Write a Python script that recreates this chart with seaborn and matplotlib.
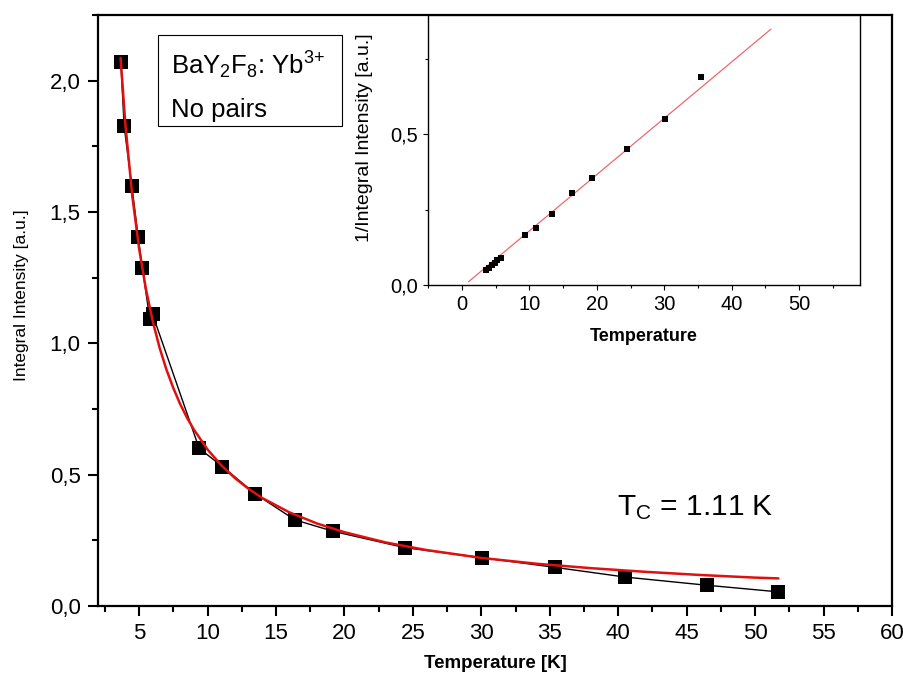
import matplotlib
matplotlib.use("Agg")
import matplotlib.pyplot as plt
import seaborn as sns
from matplotlib.patches import Rectangle
from matplotlib.ticker import MultipleLocator, FuncFormatter

# Measured integral intensity vs temperature (main panel)
temperature = [3.67, 3.91, 4.47, 4.93, 5.24, 5.78, 5.99, 9.39, 11.09, 13.48,
               16.38, 19.20, 24.43, 30.06, 35.39, 40.53, 46.47, 51.66]
intensity = [2.073, 1.826, 1.600, 1.406, 1.288, 1.094, 1.110, 0.600, 0.531, 0.427,
             0.328, 0.284, 0.222, 0.184, 0.147, 0.110, 0.079, 0.054]

# Red fit curve
fit_temperature = [3.65, 4.0, 4.5, 5.0, 5.5, 6.0, 6.5, 7.0, 7.5, 8.0, 8.5, 9.0, 10.0,
                   11.0, 12.0, 13.0, 14.0, 16.0, 18.0, 20.0, 23.0, 26.0, 30.0, 34.0,
                   38.0, 42.0, 46.0, 50.0, 51.7]
fit_intensity = [2.087, 1.834, 1.563, 1.362, 1.207, 1.084, 0.983, 0.900, 0.830, 0.769,
                 0.717, 0.672, 0.596, 0.536, 0.487, 0.446, 0.411, 0.356, 0.314, 0.281,
                 0.242, 0.213, 0.183, 0.161, 0.144, 0.130, 0.118, 0.108, 0.105]

# Inset: 1/integral intensity
inset_temperature = [3.56, 3.96, 4.45, 4.90, 5.25, 5.80, 9.36, 11.05, 13.43, 16.40,
                     19.27, 24.43, 30.08, 35.43]
inset_inverse = [0.050, 0.057, 0.066, 0.074, 0.082, 0.091, 0.167, 0.188, 0.235, 0.305,
                 0.354, 0.452, 0.551, 0.691]
inset_line_temperature = [1.0, 45.8]
inset_line_inverse = [0.011, 0.849]

comma = FuncFormatter(lambda v, pos: f"{v:.1f}".replace(".", ","))


def style_axis(ax, major_len, minor_len, width, size, pad):
    """Outward ticks on left/bottom only."""
    ax.tick_params(which="both", direction="out", top=False, right=False,
                   labelsize=size, pad=pad, width=width, colors="black")
    ax.tick_params(which="major", length=major_len)
    ax.tick_params(which="minor", length=minor_len)
    for side in ["left", "right", "top", "bottom"]:
        ax.spines[side].set_visible(True)
        ax.spines[side].set_color("black")


def main():
    sns.set_style("ticks")
    plt.rcParams["font.family"] = ["Liberation Sans", "DejaVu Sans"]
    plt.rcParams["text.color"] = "black"
    plt.rcParams["axes.labelcolor"] = "black"
    plt.rcParams["mathtext.fontset"] = "custom"
    plt.rcParams["mathtext.rm"] = "Liberation Sans"
    plt.rcParams["mathtext.it"] = "Liberation Sans:italic"
    plt.rcParams["mathtext.bf"] = "Liberation Sans:bold"

    fig = plt.figure(figsize=(9.04, 6.77), dpi=100, facecolor="white")
    ax = fig.add_axes([0.1084, 0.1049, 0.8783, 0.8729])

    # main panel
    sns.scatterplot(x=temperature, y=intensity, marker="s", s=90, color="black",
                    edgecolor="black", linewidth=0, ax=ax, zorder=2)
    sns.lineplot(x=temperature, y=intensity, color="black", lw=1.0,
                 estimator=None, sort=True, ax=ax, zorder=3)
    sns.lineplot(x=fit_temperature, y=fit_intensity, color="#e01010", lw=1.8,
                 estimator=None, sort=False, ax=ax, zorder=4)

    ax.set_xlim(2, 60)
    ax.set_ylim(0, 2.25)
    ax.xaxis.set_major_locator(MultipleLocator(5))
    ax.xaxis.set_minor_locator(MultipleLocator(2.5))
    ax.yaxis.set_major_locator(MultipleLocator(0.5))
    ax.yaxis.set_minor_locator(MultipleLocator(0.25))
    ax.yaxis.set_major_formatter(comma)
    style_axis(ax, 7.5, 4, 1.5, 16, 5)
    for sp in ax.spines.values():
        sp.set_linewidth(1.6)

    ax.set_xlabel("Temperature [K]", fontsize=13.5, fontweight="bold")
    ax.set_ylabel("Integral Intensity [a.u.]", fontsize=12.5)
    ax.xaxis.set_label_coords(0.5, -0.083)
    ax.yaxis.set_label_coords(-0.087, 0.526)

    # sample label box
    ax.add_patch(Rectangle((0.0756, 0.812), 0.2317, 0.154, transform=ax.transAxes,
                           fill=False, edgecolor="black", lw=0.8, zorder=5))
    ax.text(0.092, 0.900, r"BaY$_2$F$_8$: Yb$^{3{+}}$", transform=ax.transAxes,
            fontsize=18.5, va="baseline", ha="left")
    ax.text(0.092, 0.827, "No pairs", transform=ax.transAxes,
            fontsize=18.5, va="baseline", ha="left")

    ax.text(0.654, 0.154, r"T$_\mathrm{C}$ = 1.11 K", transform=ax.transAxes,
            fontsize=21.5, va="baseline", ha="left")

    # inset
    inset = fig.add_axes([0.4735, 0.579, 0.4778, 0.3988])
    sns.lineplot(x=inset_line_temperature, y=inset_line_inverse, color="#ea6a6a",
                 lw=0.9, estimator=None, sort=False, ax=inset, zorder=2)
    sns.scatterplot(x=inset_temperature, y=inset_inverse, marker="s", s=24,
                    color="black", edgecolor="black", linewidth=0, ax=inset, zorder=3)
    inset.set_xlim(-5, 59)
    inset.set_ylim(0, 0.896)
    inset.xaxis.set_major_locator(MultipleLocator(10))
    inset.xaxis.set_minor_locator(MultipleLocator(5))
    inset.yaxis.set_major_locator(MultipleLocator(0.5))
    inset.yaxis.set_minor_locator(MultipleLocator(0.25))
    inset.yaxis.set_major_formatter(comma)
    style_axis(inset, 3.5, 2, 0.8, 14.5, 3.5)
    for sp in inset.spines.values():
        sp.set_linewidth(1.0)
    inset.set_xlabel("Temperature", fontsize=13, fontweight="bold")
    inset.set_ylabel("1/Integral Intensity [a.u.]", fontsize=14)
    inset.xaxis.set_label_coords(0.5, -0.16)
    inset.yaxis.set_label_coords(-0.127, 0.544)

    fig.savefig("out.png", dpi=100, facecolor="white")


if __name__ == "__main__":
    main()
